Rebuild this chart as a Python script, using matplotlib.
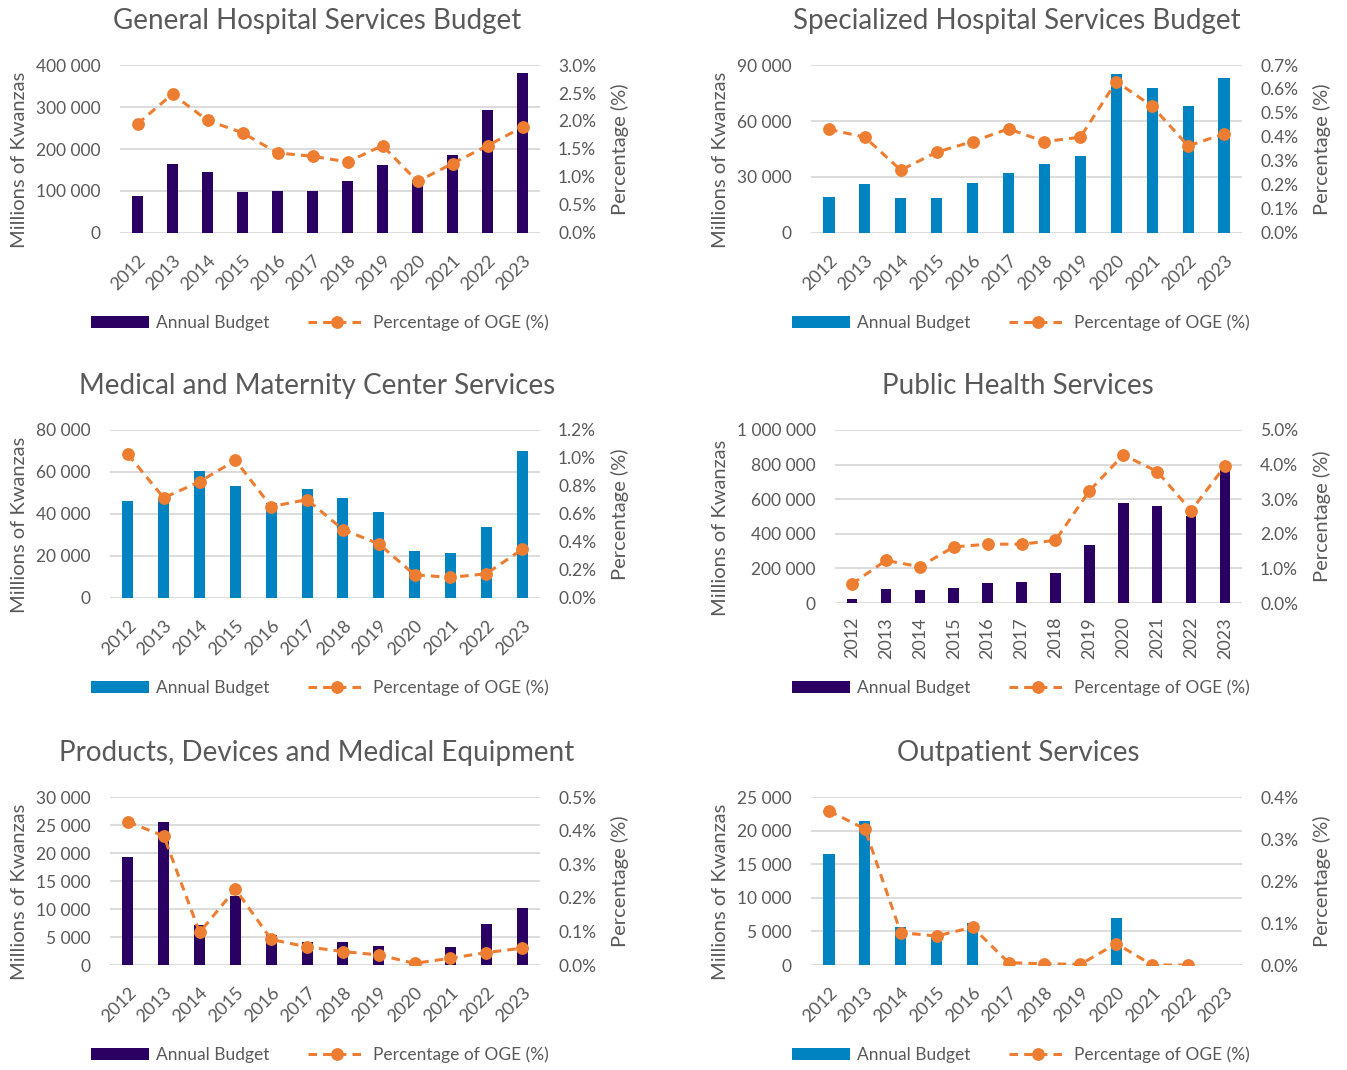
import matplotlib
matplotlib.use("Agg")
import matplotlib.pyplot as plt
import numpy as np
from matplotlib.ticker import FuncFormatter, MultipleLocator
from matplotlib.patches import Patch
from matplotlib.lines import Line2D

plt.rcParams['font.family'] = ['Lato', 'DejaVu Sans']

years = ['2012', '2013', '2014', '2015', '2016', '2017', '2018', '2019', '2020', '2021', '2022', '2023']

# General Hospital Services Budget
general_budget = [87000, 165000, 145000, 97000, 99000, 101000, 123000, 162000, 125000, 185000, 293000, 382000]
general_pct = [1.95, 2.48, 2.01, 1.79, 1.43, 1.37, 1.27, 1.56, 0.92, 1.24, 1.56, 1.89]

# Specialized Hospital Services Budget
special_budget = [19500, 26500, 19000, 18500, 26600, 32000, 36800, 41400, 85200, 77800, 68000, 83100]
special_pct = [0.432, 0.399, 0.262, 0.337, 0.381, 0.434, 0.381, 0.399, 0.631, 0.528, 0.363, 0.413]

# Medical and Maternity Center Services
maternity_budget = [46100, 47500, 60500, 53500, 45100, 52100, 47700, 40900, 22500, 21500, 33600, 70200]
maternity_pct = [1.026, 0.715, 0.831, 0.983, 0.653, 0.703, 0.489, 0.387, 0.166, 0.147, 0.173, 0.347]

# Public Health Services
public_budget = [21000, 79000, 73000, 88000, 115000, 123000, 173000, 335000, 579000, 562000, 504000, 788000]
public_pct = [0.55, 1.23, 1.05, 1.62, 1.70, 1.70, 1.81, 3.24, 4.28, 3.80, 2.67, 3.96]

# Products, Devices and Medical Equipment
products_budget = [19200, 25500, 7100, 12400, 5350, 4150, 4050, 3400, 300, 3200, 7250, 10150]
products_pct = [0.426, 0.384, 0.097, 0.226, 0.076, 0.054, 0.040, 0.030, 0.005, 0.020, 0.037, 0.050]

# Outpatient Services
outpatient_budget = [16450, 21500, 5600, 4200, 6200, 0, 0, 0, 6950, 0, 0, 0]
outpatient_pct = [0.367, 0.324, 0.077, 0.069, 0.090, 0.0055, 0.003, 0.0015, 0.051, 0.0, 0.0, np.nan]

titles = ["General Hospital Services Budget", "Specialized Hospital Services Budget",
          "Medical and Maternity Center Services", "Public Health Services",
          "Products, Devices and Medical Equipment", "Outpatient Services"]

PURPLE = "#2A0062"
BLUE = "#0083C1"
ORANGE = "#ED7D31"
GRID = "#D9D9D9"
TXT = "#595959"

W, H = 1347, 1070
fig = plt.figure(figsize=(W / 100, H / 100), dpi=100)

# panel geometry in pixels: left, right, top, bottom
panels = [
    dict(budget=general_budget, pct=general_pct, color=PURPLE, box=(120, 540, 65, 233),
         ymax=400000, ystep=100000, pmax=3.0, pstep=0.5, rot=45, title_xy=(317, 20), leg_xy=(320, 323), col=0),
    dict(budget=special_budget, pct=special_pct, color=BLUE, box=(811, 1242, 65, 233),
         ymax=90000, ystep=30000, pmax=0.7, pstep=0.1, rot=45, title_xy=(1017, 20), leg_xy=(1021, 323), col=1),
    dict(budget=maternity_budget, pct=maternity_pct, color=BLUE, box=(110, 540, 430, 598),
         ymax=80000, ystep=20000, pmax=1.2, pstep=0.2, rot=45, title_xy=(317, 385), leg_xy=(320, 688), col=0),
    dict(budget=public_budget, pct=public_pct, color=PURPLE, box=(835, 1242, 430, 603),
         ymax=1000000, ystep=200000, pmax=5.0, pstep=1.0, rot=90, title_xy=(1018, 385), leg_xy=(1021, 688), col=1),
    dict(budget=products_budget, pct=products_pct, color=PURPLE, box=(110, 540, 797, 965),
         ymax=30000, ystep=5000, pmax=0.5, pstep=0.1, rot=45, title_xy=(317, 752), leg_xy=(320, 1055), col=0),
    dict(budget=outpatient_budget, pct=outpatient_pct, color=BLUE, box=(811, 1242, 797, 965),
         ymax=25000, ystep=5000, pmax=0.4, pstep=0.1, rot=45, title_xy=(1018, 752), leg_xy=(1021, 1055), col=1),
]

num_fmt = FuncFormatter(lambda v, p: f"{int(round(v)):,}".replace(",", " "))
pct_fmt = FuncFormatter(lambda v, p: f"{v:.1f}%")

x = np.arange(len(years))

for i, pdef in enumerate(panels):
    l, r, t, b = pdef['box']
    ax = fig.add_axes([l / W, 1 - b / H, (r - l) / W, (b - t) / H])
    ax.bar(x, pdef['budget'], width=0.31, color=pdef['color'], zorder=2)
    ax.set_xlim(-0.5, len(years) - 0.5)
    ax.set_ylim(0, pdef['ymax'])
    ax.yaxis.set_major_locator(MultipleLocator(pdef['ystep']))
    ax.yaxis.set_major_formatter(num_fmt)
    ax.grid(axis='y', color=GRID, linewidth=1.3, zorder=0)
    ax.set_axisbelow(True)
    for s in ax.spines.values():
        s.set_visible(False)
    ax.tick_params(axis='y', length=0, pad=14, labelsize=12.5, labelcolor=TXT)
    ax.set_xticks(x)
    if pdef['rot'] == 45:
        ax.tick_params(axis='x', length=0, pad=14, labelsize=13, labelcolor=TXT)
        ax.set_xticklabels(years, rotation=45, ha='right', rotation_mode='anchor')
    else:
        ax.tick_params(axis='x', length=0, pad=10, labelsize=13, labelcolor=TXT)
        ax.set_xticklabels(years, rotation=90, ha='center', va='top')

    ax2 = ax.twinx()
    ax2.plot(x, pdef['pct'], color=ORANGE, linewidth=2.2, linestyle=(0, (2.8, 2)),
             marker='o', markersize=8.2, zorder=3)
    ax2.set_ylim(0, pdef['pmax'])
    ax2.yaxis.set_major_locator(MultipleLocator(pdef['pstep']))
    ax2.yaxis.set_major_formatter(pct_fmt)
    for s in ax2.spines.values():
        s.set_visible(False)
    ax2.tick_params(axis='y', length=0, pad=13, labelsize=12.5, labelcolor=TXT)

    # titles
    tx, ty = pdef['title_xy']
    fig.text(tx / W, 1 - (ty + 1) / H, titles[i], ha='center', va='center', fontsize=20, color=TXT)

    # axis labels
    cy = (t + b) / 2
    lx = 20 if pdef['col'] == 0 else 720
    rx = 620 if pdef['col'] == 0 else 1322
    fig.text(lx / W, 1 - (cy + 11) / H, "Millions of Kwanzas", rotation=90, ha='center', va='center',
             fontsize=14.5, color=TXT)
    fig.text(rx / W, 1 - cy / H, "Percentage (%)", rotation=90, ha='center', va='center',
             fontsize=14.5, color=TXT)

    # legend
    handles = [Patch(facecolor=pdef['color'], edgecolor='none', label='Annual Budget'),
               Line2D([0], [0], color=ORANGE, linewidth=2.2, linestyle=(0, (2.8, 2)), marker='o',
                      markersize=8.2, label='Percentage of OGE (%)')]
    lgx, lgy = pdef['leg_xy']
    fig.legend(handles=handles, loc='center', bbox_to_anchor=(lgx / W, 1 - lgy / H), ncol=2,
               frameon=False, fontsize=12.5, labelcolor=TXT, handlelength=3.3, handleheight=0.7,
               handletextpad=0.45, columnspacing=2.2, borderpad=0)

fig.savefig("out.png", dpi=100, facecolor='white')
